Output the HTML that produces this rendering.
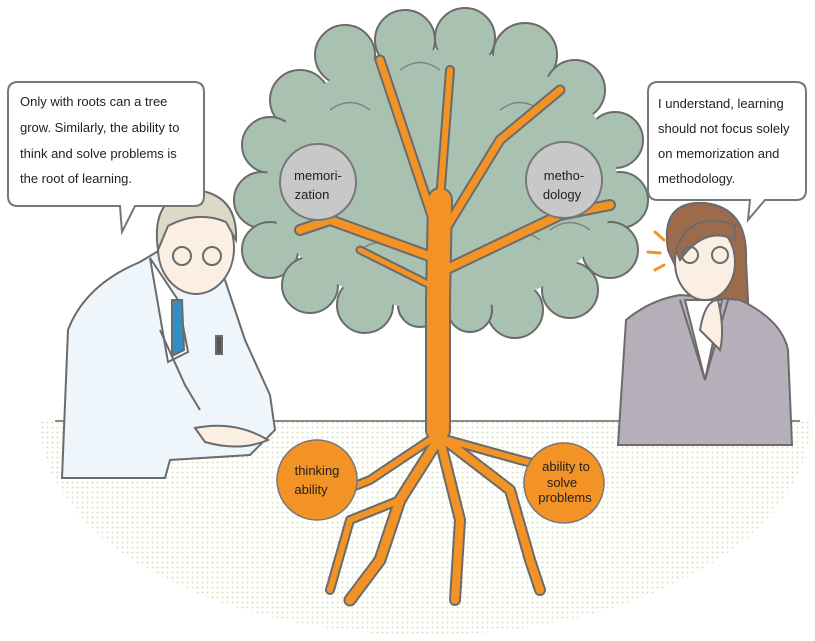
<!DOCTYPE html>
<html><head><meta charset="utf-8"><style>
html,body{margin:0;padding:0;background:#fff;}
svg{display:block;font-family:"Liberation Sans",sans-serif;}
</style></head><body>
<svg width="815" height="641" viewBox="0 0 815 641" xmlns="http://www.w3.org/2000/svg">
<defs>
<pattern id="dots" width="5" height="5" patternUnits="userSpaceOnUse">
<circle cx="2.5" cy="2.5" r="1" fill="#d6dfb8"/>
</pattern>
<clipPath id="gclip"><rect x="0" y="420" width="815" height="221"/></clipPath>
</defs>
<!-- ground -->
<ellipse cx="425" cy="420" rx="385" ry="215" fill="url(#dots)" clip-path="url(#gclip)"/>
<line x1="55" y1="421" x2="800" y2="421" stroke="#8a8a8a" stroke-width="2"/>

<!-- canopy -->
<g fill="#a9c1b1" stroke="#6b6b6b" stroke-width="2">
<circle cx="345" cy="55" r="30"/><circle cx="405" cy="40" r="30"/><circle cx="465" cy="38" r="30"/><circle cx="525" cy="55" r="32"/>
<circle cx="575" cy="90" r="30"/><circle cx="300" cy="100" r="30"/>
<circle cx="270" cy="145" r="28"/><circle cx="615" cy="140" r="28"/>
<circle cx="262" cy="200" r="28"/><circle cx="620" cy="200" r="28"/>
<circle cx="270" cy="250" r="28"/><circle cx="610" cy="250" r="28"/>
<circle cx="310" cy="285" r="28"/><circle cx="570" cy="290" r="28"/>
<circle cx="365" cy="305" r="28"/><circle cx="515" cy="310" r="28"/>
<circle cx="420" cy="305" r="22"/><circle cx="470" cy="310" r="22"/>
<ellipse cx="442" cy="180" rx="175" ry="130" stroke="none"/>
</g>
<g fill="none" stroke="#6b6b6b" stroke-width="1.5" opacity="0.7">
<path d="M330 110 q20 -15 40 0"/><path d="M500 110 q20 -15 40 0"/><path d="M360 250 q20 -15 40 0"/><path d="M500 240 q20 -15 40 0"/><path d="M400 70 q20 -15 40 0"/><path d="M550 230 q20 -15 40 0"/>
</g>
<!-- trunk & branches -->
<g id="tree" fill="none" stroke-linecap="round" stroke-linejoin="round">
<g stroke="#6b6b6b">
<path d="M438 430 L438 300 L440 200" stroke-width="26"/>
<path d="M440 260 L330 220 L300 230" stroke-width="12"/>
<path d="M440 240 L400 120 L380 60" stroke-width="11"/>
<path d="M445 230 L500 140 L560 90" stroke-width="11"/>
<path d="M445 270 L560 215 L610 205" stroke-width="12"/>
<path d="M440 200 L450 70" stroke-width="10"/>
<path d="M440 290 L360 250" stroke-width="9"/>
<path d="M438 440 L400 500 L380 560 L350 600" stroke-width="13"/>
<path d="M440 440 L460 520 L455 600" stroke-width="12"/>
<path d="M445 440 L510 490 L530 560 L540 590" stroke-width="12"/>
<path d="M448 440 L520 460 L560 470" stroke-width="10"/>
<path d="M430 440 L370 480 L320 500" stroke-width="10"/>
<path d="M400 500 L350 520 L330 590" stroke-width="10"/>
</g>
<g stroke="#f39325">
<path d="M438 430 L438 300 L440 200" stroke-width="22"/>
<path d="M440 260 L330 220 L300 230" stroke-width="8"/>
<path d="M440 240 L400 120 L380 60" stroke-width="7"/>
<path d="M445 230 L500 140 L560 90" stroke-width="7"/>
<path d="M445 270 L560 215 L610 205" stroke-width="8"/>
<path d="M440 200 L450 70" stroke-width="6"/>
<path d="M440 290 L360 250" stroke-width="5"/>
<path d="M438 440 L400 500 L380 560 L350 600" stroke-width="9"/>
<path d="M440 440 L460 520 L455 600" stroke-width="8"/>
<path d="M445 440 L510 490 L530 560 L540 590" stroke-width="8"/>
<path d="M448 440 L520 460 L560 470" stroke-width="6"/>
<path d="M430 440 L370 480 L320 500" stroke-width="6"/>
<path d="M400 500 L350 520 L330 590" stroke-width="6"/>
</g>
</g>
<!-- memorization / methodology -->
<circle cx="318" cy="182" r="38" fill="#c8c8c8" stroke="#777" stroke-width="2"/>
<text x="318" y="180" font-size="13" text-anchor="middle" fill="#222">memori-</text>
<text x="312" y="199" font-size="13" text-anchor="middle" fill="#222">zation</text>
<circle cx="564" cy="180" r="38" fill="#c8c8c8" stroke="#777" stroke-width="2"/>
<text x="564" y="180" font-size="13" text-anchor="middle" fill="#222">metho-</text>
<text x="562" y="199" font-size="13" text-anchor="middle" fill="#222">dology</text>
<!-- orange circles -->
<circle cx="317" cy="480" r="40" fill="#f39325" stroke="#777" stroke-width="1.5"/>
<text x="317" y="475" font-size="13" text-anchor="middle" fill="#222">thinking</text>
<text x="311" y="494" font-size="13" text-anchor="middle" fill="#222">ability</text>
<circle cx="564" cy="483" r="40" fill="#f39325" stroke="#777" stroke-width="1.5"/>
<text x="566" y="471" font-size="13" text-anchor="middle" fill="#222">ability to</text>
<text x="562" y="487" font-size="13" text-anchor="middle" fill="#222">solve</text>
<text x="565" y="502" font-size="13" text-anchor="middle" fill="#222">problems</text>

<!-- man -->
<g stroke="#6b6b6b" stroke-width="2">
<path d="M62 478 L68 330 Q85 285 140 262 L160 250 L225 280 L245 340 L270 395 L275 430 L250 455 L170 460 L165 478 Z" fill="#eef6fb"/>
<path d="M150 258 L178 300 L188 352 L168 362 Z" fill="#fff"/>
<path d="M172 300 L182 300 L184 350 L172 356 Z" fill="#2e8fc9"/>
<path d="M160 330 L185 385 L200 410" fill="none"/>
<ellipse cx="196" cy="248" rx="38" ry="46" fill="#fbeee3"/>
<path d="M158 250 Q150 195 196 190 Q238 195 236 240 L226 222 Q198 210 168 226 Z" fill="#ddd9c7"/>
<circle cx="182" cy="256" r="9" fill="none"/><circle cx="212" cy="256" r="9" fill="none"/>
<path d="M195 428 Q235 420 268 440 Q240 452 205 442 Z" fill="#fbeee3"/>
<rect x="216" y="336" width="6" height="18" fill="#555"/>
</g>
<!-- woman -->
<g stroke="#6b6b6b" stroke-width="2">
<path d="M668 250 Q660 200 705 203 Q748 208 746 260 L750 340 L700 320 Z" fill="#9b6b4b"/>
<path d="M618 445 L626 320 Q650 300 680 295 L740 300 Q782 320 788 350 L792 445 Z" fill="#b6afb9"/>
<path d="M685 300 L705 380 L722 300 Z" fill="#fff"/>
<path d="M680 300 L705 380 M728 300 L705 380" fill="none"/>
<ellipse cx="705" cy="262" rx="30" ry="38" fill="#fbeee3"/>
<path d="M676 250 Q690 210 735 225 L735 240 Q705 225 680 260 Z" fill="#9b6b4b"/>
<circle cx="690" cy="255" r="8" fill="none"/><circle cx="720" cy="255" r="8" fill="none"/>
<path d="M700 330 Q705 300 718 300 Q725 330 720 350 Z" fill="#fbeee3"/>
</g>
<g stroke="#f39325" stroke-width="3" stroke-linecap="round">
<line x1="655" y1="232" x2="664" y2="240"/><line x1="648" y1="252" x2="660" y2="253"/><line x1="655" y1="270" x2="664" y2="265"/>
</g>

<!-- speech bubbles -->
<path d="M18 82 H194 Q204 82 204 92 V196 Q204 206 194 206 H135 L122 232 L120 206 H18 Q8 206 8 196 V92 Q8 82 18 82 Z" fill="#fff" stroke="#777" stroke-width="2"/>
<g font-size="13" fill="#222">
<text x="20" y="106">Only with roots can a tree</text>
<text x="20" y="132">grow. Similarly, the ability to</text>
<text x="20" y="158">think and solve problems is</text>
<text x="20" y="183">the root of learning.</text>
</g>
<path d="M658 82 H796 Q806 82 806 92 V190 Q806 200 796 200 H765 L748 220 L750 200 H658 Q648 200 648 190 V92 Q648 82 658 82 Z" fill="#fff" stroke="#777" stroke-width="2"/>
<g font-size="13" fill="#222">
<text x="658" y="108">I understand, learning</text>
<text x="658" y="133">should not focus solely</text>
<text x="658" y="158">on memorization and</text>
<text x="658" y="183">methodology.</text>
</g>
</svg>
</body></html>
